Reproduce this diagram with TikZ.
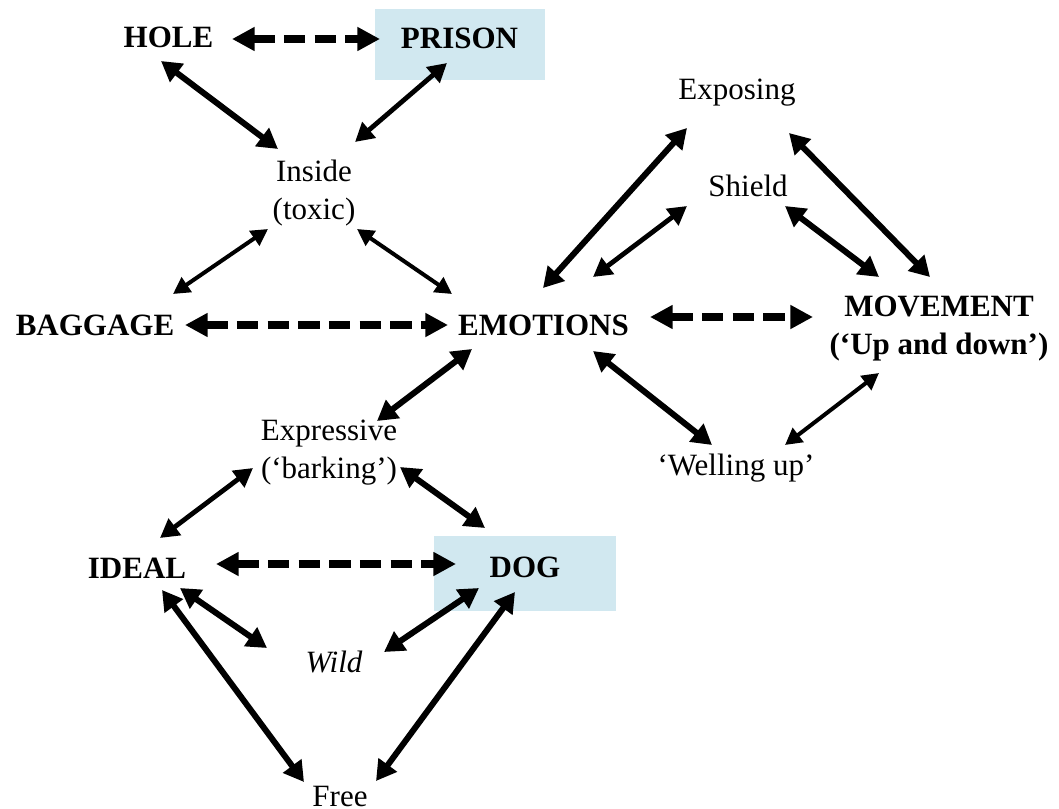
\documentclass[tikz,border=0pt]{standalone}
\usepackage{fontspec}
\setmainfont{Liberation Serif}
\usetikzlibrary{arrows.meta,calc}
\definecolor{boxblue}{RGB}{209,232,240}
\begin{document}
\begin{tikzpicture}[x=0.75pt,y=-0.75pt,
  lbl/.style={anchor=base,inner sep=0pt,align=center,
    font=\fontsize{23.25}{28.5}\selectfont},
  blbl/.style={lbl,font=\fontsize{23.25}{28.5}\selectfont\bfseries},
  boxed/.style={fill=boxblue,inner sep=0pt,text depth=9pt,
    font=\fontsize{23.25}{28.5}\selectfont\bfseries},
  thickarrow/.style={line width=4.5pt,
    {Triangle[length=15pt,width=16.5pt]}-{Triangle[length=15pt,width=16.5pt]}},
  medarrow/.style={line width=3.6pt,
    {Triangle[length=14pt,width=15pt]}-{Triangle[length=14pt,width=15pt]}},
  thinarrow/.style={line width=3pt,
    {Triangle[length=12.5pt,width=13pt]}-{Triangle[length=12.5pt,width=13pt]}},
  dasharrow/.style={line width=6pt,dash pattern=on 16pt off 7pt,
    {Triangle[length=17pt,width=17pt]}-{Triangle[length=17pt,width=17pt]}}]
\useasboundingbox (0,0) rectangle (1059,809);

% concept nodes (the base anchor of a two-line node is its last line)
\node[blbl] (hole) at (168.5,48) {HOLE};
\node[boxed,minimum width=127.5pt,minimum height=53.25pt] (prison) at (459.5,44.5) {PRISON};
\node[lbl] (inside) at (314,220) {Inside\\(toxic)};
\node[blbl] (baggage) at (95,335) {BAGGAGE};
\node[blbl] (emotions) at (543.5,335) {EMOTIONS};
\node[lbl] (exposing) at (737,100) {Exposing};
\node[lbl] (shield) at (748,197) {Shield};
\node[blbl] (movement) at (939,354) {MOVEMENT\\(`Up and down')};
\node[lbl] (welling) at (736,475) {`Welling up'};
\node[lbl] (expressive) at (329,478) {Expressive\\(`barking')};
\node[blbl] (ideal) at (137,578) {IDEAL};
\node[boxed,minimum width=136.5pt,minimum height=56.25pt] (dog) at (525,573.5) {DOG};
\node[lbl,font=\fontsize{23.25}{28.5}\selectfont\itshape] (wild) at (334,672) {Wild};
\node[lbl] (free) at (340,806) {Free};

% dashed links
\draw[dasharrow] ($(hole.base)+(63.5,-9)$) -- ($(prison.center)+(-79.5,-5.5)$);
\draw[dasharrow] ($(baggage.base)+(90,-10)$) -- ($(emotions.base)+(-95.5,-10)$);
\draw[dasharrow] ($(emotions.base)+(106.5,-18)$) -- ($(movement.base)+(-126,-37)$);
\draw[dasharrow] ($(ideal.base)+(79,-14)$) -- ($(dog.center)+(-69,-9.5)$);

% upper cluster
\draw[thickarrow] ($(hole.base)+(-7.5,13)$) -- ($(inside.base)+(-36,-71)$);
\draw[medarrow] ($(prison.center)+(-12.5,18.5)$) -- ($(inside.base)+(41,-78)$);
\draw[thinarrow] ($(inside.base)+(-46,9)$) -- ($(baggage.base)+(78,-41)$);
\draw[thinarrow] ($(inside.base)+(43,9)$) -- ($(emotions.base)+(-91.5,-41)$);

% right cluster
\draw[thickarrow] ($(emotions.base)+(-0.5,-47)$) -- ($(exposing.base)+(-50,28)$);
\draw[medarrow] ($(emotions.base)+(49.5,-58)$) -- ($(shield.base)+(-61,9)$);
\draw[thickarrow] ($(exposing.base)+(52,33)$) -- ($(movement.base)+(-9,-77)$);
\draw[thickarrow] ($(shield.base)+(37,9)$) -- ($(movement.base)+(-60,-77)$);
\draw[thickarrow] ($(emotions.base)+(49.5,16)$) -- ($(welling.base)+(-24,-30)$);
\draw[thinarrow] ($(welling.base)+(49,-30)$) -- ($(movement.base)+(-60,19)$);

% lower cluster
\draw[thickarrow] ($(emotions.base)+(-71.5,14)$) -- ($(expressive.base)+(48,-57)$);
\draw[medarrow] ($(expressive.base)+(-76,-10)$) -- ($(ideal.base)+(23,-40)$);
\draw[thickarrow] ($(expressive.base)+(71,-11)$) -- ($(dog.center)+(-40,-45.5)$);
\draw[thickarrow] ($(ideal.base)+(43,10)$) -- ($(wild.base)+(-67,-24)$);
\draw[thickarrow] ($(ideal.base)+(25,12)$) -- ($(free.base)+(-36,-24)$);
\draw[thickarrow] ($(wild.base)+(50,-20)$) -- ($(dog.center)+(-46,14.5)$);
\draw[thickarrow] ($(dog.center)+(-10,18.5)$) -- ($(free.base)+(36,-25)$);
\end{tikzpicture}
\end{document}
